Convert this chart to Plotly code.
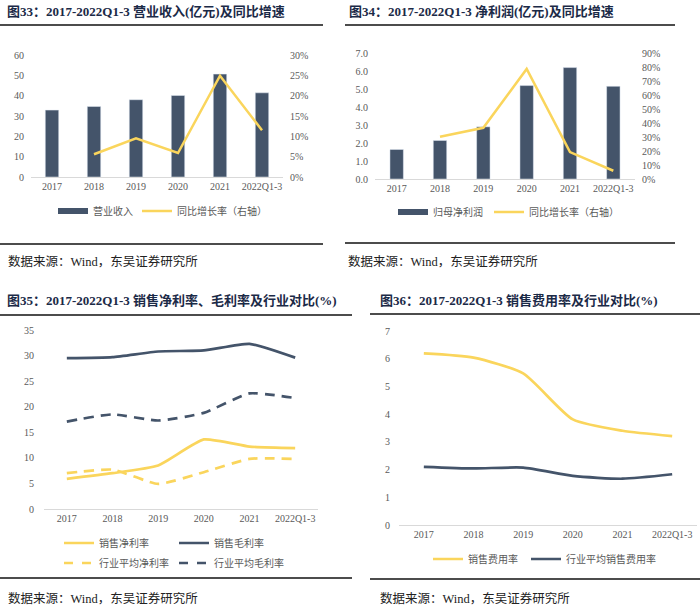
import plotly.graph_objects as go

# ---------------- data ----------------
years = ["2017", "2018", "2019", "2020", "2021", "2022Q1-3"]

revenue = [32.9, 34.7, 38.0, 40.1, 50.6, 41.4]          # 营业收入 (亿元)
revenue_yoy = [None, 5.6, 9.5, 5.9, 24.9, 11.5]          # 同比增长率 (%)

net_profit = [1.64, 2.14, 2.90, 5.19, 6.19, 5.15]         # 归母净利润 (亿元)
net_profit_yoy = [None, 30.2, 36.6, 78.6, 19.2, 5.9]      # 同比增长率 (%)

net_margin = [5.9, 7.0, 8.5, 13.6, 12.2, 11.9]            # 销售净利率
gross_margin = [29.5, 29.7, 30.8, 31.0, 32.3, 29.6]       # 销售毛利率
ind_net_margin = [7.0, 7.7, 4.9, 7.2, 9.8, 9.8]           # 行业平均净利率
ind_gross_margin = [17.1, 18.5, 17.3, 18.8, 22.6, 21.7]   # 行业平均毛利率

sell_exp = [6.19, 6.04, 5.47, 3.81, 3.40, 3.21]           # 销售费用率
ind_sell_exp = [2.10, 2.04, 2.07, 1.77, 1.67, 1.83]       # 行业平均销售费用率

titles = [
    "图33：2017-2022Q1-3 营业收入(亿元)及同比增速",
    "图34：2017-2022Q1-3 净利润(亿元)及同比增速",
    "图35：2017-2022Q1-3 销售净利率、毛利率及行业对比(%)",
    "图36：2017-2022Q1-3 销售费用率及行业对比(%)",
]
source = "数据来源：Wind，东吴证券研究所"

# ---------------- style ----------------
W, H = 700, 609
NAVY = "#44546A"
GOLD = "#FAD55C"
GRAY = "#595959"
SERIF = "Liberation Serif, Noto Sans CJK SC, serif"
TITLE_FONT = dict(family="Liberation Serif, Noto Sans CJK SC", size=13, color="#1B2A47")
TICK_FONT = dict(family=SERIF, size=10, color=GRAY)
LEG_FONT = dict(family="Liberation Serif, Noto Sans CJK SC", size=10, color=GRAY)


def px(x):
    return x / W


def py(y):
    return 1 - y / H


fig = go.Figure()

# Panel 1
fig.add_trace(go.Bar(x=years, y=revenue, marker_color=NAVY, width=0.32,
                     xaxis="x", yaxis="y", showlegend=False))
fig.add_trace(go.Scatter(x=years, y=revenue_yoy, mode="lines", line=dict(color=GOLD, width=2.5),
                         xaxis="x", yaxis="y2", showlegend=False))
# Panel 2
fig.add_trace(go.Bar(x=years, y=net_profit, marker_color=NAVY, width=0.31,
                     xaxis="x2", yaxis="y3", showlegend=False))
fig.add_trace(go.Scatter(x=years, y=net_profit_yoy, mode="lines", line=dict(color=GOLD, width=2.5),
                         xaxis="x2", yaxis="y4", showlegend=False))
# Panel 3
p3 = [
    (net_margin, GOLD, "solid"),
    (gross_margin, NAVY, "solid"),
    (ind_net_margin, GOLD, "10px,7px"),
    (ind_gross_margin, NAVY, "10px,7px"),
]
for vals, col, dash in p3:
    fig.add_trace(go.Scatter(x=years, y=vals, mode="lines",
                             line=dict(color=col, width=2.7, dash=dash, shape="spline", smoothing=0.5),
                             xaxis="x3", yaxis="y5", showlegend=False))
# Panel 4
for vals, col in [(sell_exp, GOLD), (ind_sell_exp, NAVY)]:
    fig.add_trace(go.Scatter(x=years, y=vals, mode="lines",
                             line=dict(color=col, width=2.7, shape="spline", smoothing=0.6),
                             xaxis="x4", yaxis="y6", showlegend=False))

# ---------------- legends (one legend per entry for exact placement) ----------------
legend_items = [
    # name, color, width, dash, x(px), y(px)
    ("营业收入", NAVY, 6, "solid", 53, 211),
    ("同比增长率（右轴）", GOLD, 2.5, "solid", 137, 211),
    ("归母净利润", NAVY, 6, "solid", 393, 212),
    ("同比增长率（右轴）", GOLD, 2.5, "solid", 489, 212),
    ("销售净利率", GOLD, 2.7, "solid", 59, 543),
    ("销售毛利率", NAVY, 2.7, "solid", 174, 543),
    ("行业平均净利率", GOLD, 2.7, "dash", 59, 563),
    ("行业平均毛利率", NAVY, 2.7, "dash", 174, 563),
    ("销售费用率", GOLD, 2.7, "solid", 428, 559),
    ("行业平均销售费用率", NAVY, 2.7, "solid", 526, 559),
]
legend_layout = {}
for i, (name, col, w, dash, lx, ly) in enumerate(legend_items):
    key = "legend" if i == 0 else f"legend{i + 1}"
    fig.add_trace(go.Scatter(x=[None], y=[None], mode="lines", name=name,
                             line=dict(color=col, width=w, dash=dash),
                             xaxis="x", yaxis="y", showlegend=True, legend=key,
                             hoverinfo="skip"))
    legend_layout[key] = dict(x=px(lx), y=py(ly), xanchor="left", yanchor="middle",
                              orientation="h", font=LEG_FONT, bgcolor="rgba(0,0,0,0)",
                              borderwidth=0)

# ---------------- axes ----------------
def xax(domain, anchor):
    return dict(domain=domain, anchor=anchor, type="category", range=[-0.5, 5.5],
                showline=True, linecolor="#D9D9D9", linewidth=1, ticks="",
                showgrid=False, zeroline=False, tickfont=TICK_FONT, fixedrange=True,
                automargin=False)


def yax(domain, anchor, rng, dtick, **kw):
    d = dict(domain=domain, anchor=anchor, range=rng, dtick=dtick, showgrid=False,
             zeroline=False, showline=False, ticks="", tickfont=TICK_FONT,
             ticklabelstandoff=6, fixedrange=True, automargin=False)
    d.update(kw)
    return d


fig.update_layout(
    width=W, height=H, margin=dict(l=0, r=0, t=0, b=0, autoexpand=False),
    paper_bgcolor="white", plot_bgcolor="white",
    xaxis=xax([px(31), px(283)], "y"),
    yaxis=yax([py(177), py(55)], "x", [0, 60], 10),
    yaxis2=yax([py(177), py(55)], "x", [0, 30], 5, overlaying="y", side="right", ticksuffix="%"),
    xaxis2=xax([px(375), px(635)], "y3"),
    yaxis3=yax([py(179), py(53)], "x2", [0, 7], 1, tickformat=".1f"),
    yaxis4=yax([py(179), py(53)], "x2", [0, 90], 10, overlaying="y3", side="right", ticksuffix="%"),
    xaxis3=xax([px(44), px(318)], "y5"),
    yaxis5=yax([py(509), py(330)], "x3", [0, 35], 5, ticklabelstandoff=9),
    xaxis4=xax([px(399), px(697)], "y6"),
    yaxis6=yax([py(525), py(331)], "x4", [0, 7], 1, ticklabelstandoff=8),
    **legend_layout,
)

# ---------------- titles, sources, rules ----------------
title_pos = [(5, 12), (347, 12), (5, 300), (378, 300)]
source_pos = [(6, 262), (346, 262), (6, 598), (378, 598)]
for t, (tx, ty) in zip(titles, title_pos):
    fig.add_annotation(text=f"<b>{t}</b>", x=px(tx), y=py(ty), xref="paper", yref="paper",
                       xanchor="left", yanchor="middle", showarrow=False, font=TITLE_FONT)
for (sx, sy) in source_pos:
    fig.add_annotation(text=source, x=px(sx), y=py(sy), xref="paper", yref="paper",
                       xanchor="left", yanchor="middle", showarrow=False,
                       font=dict(family="Liberation Serif, Noto Sans CJK SC", size=12.5, color="#222222"))

rules = [
    (0, 323, 25), (0, 323, 244),
    (345, 675, 25), (345, 675, 243),
    (0, 352, 315), (0, 352, 578),
    (370, 700, 314), (370, 700, 579),
]
for x0, x1, y in rules:
    fig.add_shape(type="line", xref="paper", yref="paper", x0=px(x0), x1=px(x1),
                  y0=py(y), y1=py(y), line=dict(color="#111111", width=1.5))

fig.write_html("out.html", config={"displayModeBar": False},
               post_script="document.body.style.margin='0';document.body.style.overflow='hidden';")
